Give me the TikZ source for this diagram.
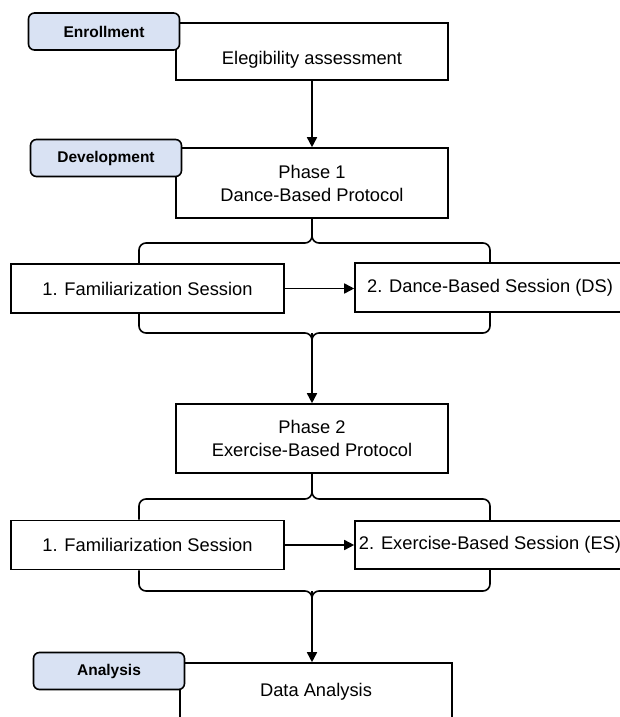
\documentclass[tikz,border=0pt]{standalone}
\usepackage{fontspec}
\setmainfont{Liberation Sans}
\usetikzlibrary{arrows.meta}
\definecolor{tagblue}{HTML}{D9E2F3}

\begin{document}
\begin{tikzpicture}[x=1pt, y=-1pt, line width=1.6pt,
	box/.style={draw, fill=white, rectangle, align=center, inner sep=2pt, font=\fontsize{18.3}{23}\selectfont},
	tag/.style={draw, fill=tagblue, rounded corners=6pt, minimum width=151pt, minimum height=37pt, font=\fontsize{15.5}{18}\selectfont\bfseries},
	arr/.style={-{Triangle[length=10pt,width=10pt]}},
	brace/.style={rounded corners=7pt}]
	\useasboundingbox (0,0) rectangle (620,717);
	\clip (0,0) rectangle (620,717);
	
	\node (elig) at (312,51.5) [box, minimum width=272pt, minimum height=57pt, text height=30pt, text depth=4pt]{Elegibility assessment};
	\node (enroll) at (104,31.5) [tag]{Enrollment};
	
	\node (ph1) at (312,183) [box, minimum width=272pt, minimum height=70pt]{Phase 1\\Dance-Based Protocol};
	\node (dev) at (106,158) [tag]{Development};
	
	\node (fam1) at (147.5,288.5) [box, minimum width=273pt, minimum height=49pt]{1. Familiarization Session};
	\node (ds) at (490,287.5) [box, minimum width=270pt, minimum height=49pt]{2. Dance-Based Session (DS)};
	
	\node (ph2) at (312,438.5) [box, minimum width=272pt, minimum height=69pt]{Phase 2\\Exercise-Based Protocol};
	
	\node (fam2) at (147.5,545) [box, minimum width=273pt, minimum height=49pt]{1. Familiarization Session};
	\node (es) at (490,545) [box, minimum width=270pt, minimum height=48pt]{2. Exercise-Based Session (ES)};
	
	\node (da) at (316,692) [box, minimum width=272pt, minimum height=58pt]{Data Analysis};
	\node (ana) at (109,671) [tag]{Analysis};
	
	\coordinate (b1) at (312,243);
	\coordinate (b2) at (312,333);
	\coordinate (b3) at (312,499);
	\coordinate (b4) at (312,591);
	
	\draw[arr] (elig.south) -- (ph1.north);
	
	\draw[brace] (139,0 |- fam1.north) |- (b1) -- (ph1.south);
	\draw[brace] (490,0 |- ds.north) |- (b1) -- (ph1.south);
	\draw[arr] (fam1.east) -- (fam1.east -| ds.west);
	\draw[brace] (139,0 |- fam1.south) |- (b2) -- ++(0,10);
	\draw[brace] (490,0 |- ds.south) |- (b2) -- ++(0,10);
	\draw[arr] (b2) -- (ph2.north);
	
	\draw[brace] (139,0 |- fam2.north) |- (b3) -- (ph2.south);
	\draw[brace] (490,0 |- es.north) |- (b3) -- (ph2.south);
	\draw[arr] (fam2.east) -- (fam2.east -| es.west);
	\draw[brace] (139,0 |- fam2.south) |- (b4) -- ++(0,10);
	\draw[brace] (490,0 |- es.south) |- (b4) -- ++(0,10);
	\draw[arr] (b4) -- (b4 |- da.north);
	
\end{tikzpicture}
\end{document}
